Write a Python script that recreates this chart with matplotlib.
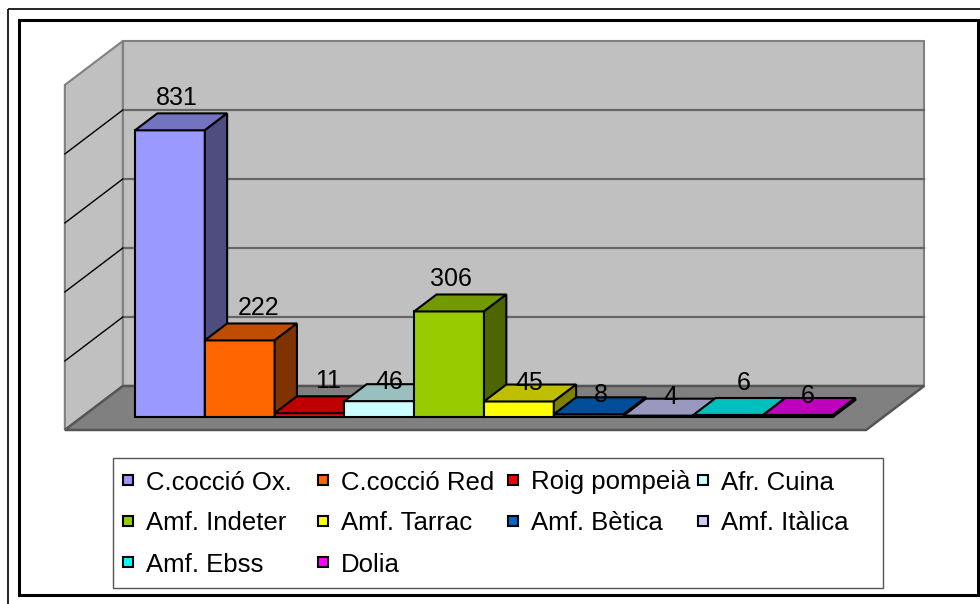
import matplotlib
matplotlib.use("Agg")
import matplotlib.pyplot as plt
from matplotlib.patches import Polygon, Rectangle

# data
categories = ["C.cocció Ox.", "C.cocció Red", "Roig pompeià", "Afr. Cuina",
              "Amf. Indeter", "Amf. Tarrac", "Amf. Bètica", "Amf. Itàlica",
              "Amf. Ebss", "Dolia"]
values = [831, 222, 11, 46, 306, 45, 8, 4, 6, 6]
colors = ["#9999FF", "#FF6600", "#FF0000", "#CCFFFF", "#99CC00",
          "#FFFF00", "#0066CC", "#CCCCFF", "#00FFFF", "#FF00FF"]
gridlines = [200, 400, 600, 800, 1000]

# label nudges (pixels) where excel moved labels around
label_dx_px = [7, 19, 19, 10, 2, 10, 12, 12, 15, 10]
label_dy_px = [0, 0, 0, 13, 0, 13, 13, 13, 0, 13]

plt.rcParams['font.family'] = ['Liberation Sans', 'DejaVu Sans']

W, H = 980, 604
fig = plt.figure(figsize=(W / 100, H / 100), dpi=100)

# pixel layout of the plot area
bar_px = 69.8      # width of one bar
val_px = 0.345     # pixels per unit
x0_px, y0_px = 135, 417
depth_x, depth_y = 58 / bar_px, 44 / val_px   # full floor depth in data units
d0, d1 = 0.295, 0.68                           # bar front / back depth
wall_l, wall_r = -0.76, 10.72
top = 1000

ax = fig.add_axes([0, 0, 1, 1])
ax.set_xlim(-x0_px / bar_px, (W - x0_px) / bar_px)
ax.set_ylim((y0_px - H) / val_px, y0_px / val_px)
ax.axis('off')


def shade(c, f):
    r, g, b = matplotlib.colors.to_rgb(c)
    return (r * f, g * f, b * f)


def proj(x, v, d):
    return (x + (d - d0) * depth_x, v + (d - d0) * depth_y)


def face(pts, fc, ec, lw, z):
    ax.add_patch(Polygon([proj(*p) for p in pts], closed=True, facecolor=fc,
                         edgecolor=ec, linewidth=lw, zorder=z, joinstyle='miter'))


# walls and floor
face([(wall_l, 0, 0), (wall_l, 0, 1), (wall_l, top, 1), (wall_l, top, 0)],
     "#C0C0C0", "#808080", 1.5, 1)
face([(wall_l, 0, 1), (wall_r, 0, 1), (wall_r, top, 1), (wall_l, top, 1)],
     "#C0C0C0", "#808080", 1.5, 1)
face([(wall_l, 0, 0), (wall_r, 0, 0), (wall_r, 0, 1), (wall_l, 0, 1)],
     "#808080", "#555555", 1.8, 1)

for g in gridlines[:-1]:
    xa, ya = proj(wall_l, g, 1)
    xb, yb = proj(wall_r, g, 1)
    ax.plot([xa, xb], [ya, yb], color="#666666", lw=1.6, zorder=2)
    xc, yc = proj(wall_l, g, 0)
    ax.plot([xa, xc], [ya, yc], color="black", lw=1.0, zorder=2)

# bars, left to right so later fronts cover earlier sides
for i, (val, c) in enumerate(zip(values, colors)):
    z = 3 + i
    face([(i, 0, d0), (i + 1, 0, d0), (i + 1, val, d0), (i, val, d0)], c, "black", 1.5, z)
    face([(i, val, d0), (i + 1, val, d0), (i + 1, val, d1), (i, val, d1)],
         shade(c, 0.75), "black", 1.5, z)
    face([(i + 1, 0, d0), (i + 1, 0, d1), (i + 1, val, d1), (i + 1, val, d0)],
         shade(c, 0.5), "black", 1.5, z)

for i, val in enumerate(values):
    lx, ly = proj(i + 0.5, val, d1)
    ax.text(i + 0.5 + label_dx_px[i] / bar_px, ly + (15 - label_dy_px[i]) / val_px,
            str(val), ha='center', va='center', fontsize=18, zorder=30)

# overlay in pixel coordinates: frames and legend
ov = fig.add_axes([0, 0, 1, 1])
ov.set_xlim(0, W)
ov.set_ylim(H, 0)
ov.axis('off')
ov.patch.set_alpha(0)

ov.add_patch(Rectangle((8, 9), W, H, fill=False, edgecolor="black", lw=1.2))
ov.add_patch(Rectangle((19, 20), 959, 575, fill=False, edgecolor="black", lw=2.2))

ov.add_patch(Rectangle((113, 458), 770, 130, facecolor="white", edgecolor="#555555", lw=1.0))
col_x = [123, 318, 508, 698]
row_y = [480, 521, 562]
for k, (name, c) in enumerate(zip(categories, colors)):
    cx = col_x[k % 4]
    cy = row_y[k // 4]
    ov.add_patch(Rectangle((cx, cy - 5), 10, 10, facecolor=c, edgecolor="black", lw=1.5))
    ov.text(cx + 23, cy, name, ha='left', va='center_baseline', fontsize=18.5)

fig.savefig("out.png", dpi=100)
